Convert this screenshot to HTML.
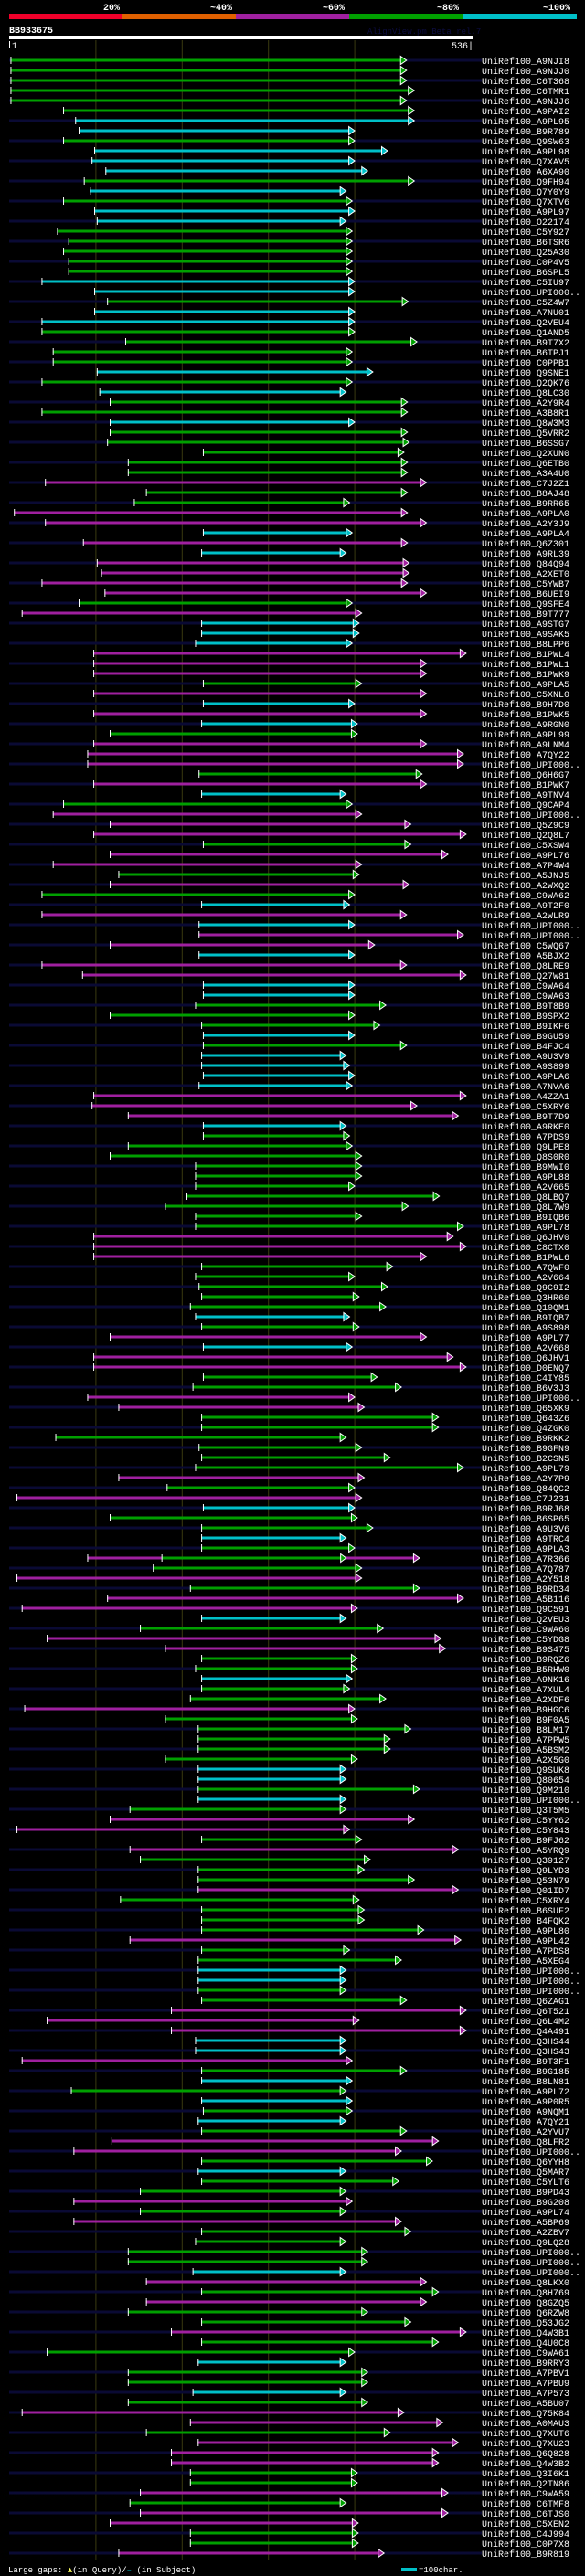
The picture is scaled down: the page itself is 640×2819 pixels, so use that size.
<!DOCTYPE html>
<html><head><meta charset="utf-8">
<style>
html,body{margin:0;padding:0;background:#000;}
svg{display:block;}
text{font-family:"Liberation Mono","DejaVu Sans Mono",monospace;}
</style></head>
<body>
<svg id="chart" width="640" height="2819" viewBox="0 0 640 2819" xmlns="http://www.w3.org/2000/svg">
<rect x="0" y="0" width="640" height="2819" fill="#000"/>
<g>
<rect x="10" y="15" width="124" height="6" fill="#f0002a"/>
<rect x="134" y="15" width="124" height="6" fill="#e06000"/>
<rect x="258" y="15" width="124" height="6" fill="#a020a0"/>
<rect x="382" y="15" width="124" height="6" fill="#00a000"/>
<rect x="506" y="15" width="125" height="6" fill="#00c0c8"/>
<text x="113" y="11" fill="#fff" font-size="10" font-weight="bold">20%</text>
<text x="230" y="11" fill="#fff" font-size="10" font-weight="bold">~40%</text>
<text x="353" y="11" fill="#fff" font-size="10" font-weight="bold">~60%</text>
<text x="478" y="11" fill="#fff" font-size="10" font-weight="bold">~80%</text>
<text x="594" y="11" fill="#fff" font-size="10" font-weight="bold">~100%</text>
</g>
<text x="10" y="36" fill="#fff" font-size="10" font-weight="bold">BB933675</text>
<text x="402" y="37" fill="#0c0c40" font-size="9">AlignView.pm Beta rel.7</text>
<rect x="10" y="39" width="508" height="4" fill="#fff"/>
<rect x="10" y="45" width="1" height="8" fill="#fff"/>
<text x="13" y="53" fill="#fff" font-size="10">1</text>
<text x="518" y="53" fill="#fff" font-size="10" text-anchor="end">536|</text>
<g id="grid"></g>
<g id="rows"></g>
<g>
<text x="9" y="2815" fill="#fff" font-size="9">Large gaps: <tspan fill="#ffff60">▲</tspan>(in Query)/<tspan fill="#00c0c8">–</tspan> (in Subject)</text>
<rect x="439" y="2810" width="17" height="3" fill="#00c0c8"/>
<text x="458" y="2815" fill="#fff" font-size="9">=100char.</text>
</g>
</svg>
<script>
const gridTicks = [100, 200, 300, 400, 500];
const starts = [1,1,1,1,1,62,76,80,62,98,95,111,86,93,62,98,101,55,68,62,68,68,37,98,113,98,37,37,134,50,50,101,37,104,116,37,116,116,113,224,137,137,41,158,144,5,41,224,85,222,101,106,37,110,80,14,222,222,215,97,97,97,224,97,224,97,222,116,97,90,90,219,97,222,62,50,116,97,224,116,50,126,116,37,222,37,219,219,116,219,37,84,224,224,215,116,222,224,224,222,222,224,219,97,95,137,224,224,137,116,215,215,215,205,180,215,215,97,97,97,222,215,219,222,209,215,222,116,224,97,97,224,212,90,126,222,222,53,219,222,215,126,182,8,224,116,222,222,222,90,166,8,209,113,14,222,151,43,180,222,215,222,222,209,17,180,218,218,218,180,218,218,218,218,139,116,8,222,139,151,218,218,218,128,222,222,222,139,222,218,218,218,218,222,187,43,187,215,215,14,222,222,71,222,224,218,222,118,74,222,218,222,151,74,151,74,222,215,137,137,212,158,222,158,137,222,187,222,43,218,137,137,212,137,14,209,158,218,187,187,209,209,151,139,151,116,209,209,126];
const ends = [460,460,460,469,460,469,469,400,400,438,400,415,469,390,397,400,390,397,397,397,397,397,400,400,462,400,400,400,472,397,397,421,397,390,461,461,400,461,463,457,461,461,483,461,394,461,483,397,461,390,463,463,461,483,397,408,405,405,397,529,483,483,408,483,400,483,403,403,483,526,526,478,483,390,397,408,465,529,465,508,408,405,463,400,394,460,400,526,423,400,460,529,400,400,436,400,429,400,460,390,394,400,397,529,472,520,390,394,397,408,408,408,400,498,462,408,526,514,529,483,444,400,438,405,436,394,405,483,397,514,529,426,454,400,411,497,497,390,408,441,526,411,400,408,400,403,421,390,400,475,408,408,475,526,403,390,433,500,505,403,403,397,394,436,400,403,465,441,441,403,390,390,475,390,390,469,394,408,520,418,411,469,520,405,411,411,480,523,394,454,390,390,390,460,529,405,529,390,390,397,460,397,390,397,397,390,460,497,454,490,390,451,390,397,390,454,465,390,415,415,390,483,497,483,415,465,529,497,400,390,415,415,390,415,457,502,441,520,497,497,403,403,508,390,508,404,404,404,434];
const kinds = ("ggggggccgc ccgcgccggg ggccgccggg gcgcggcggg ggmggmmcmc mmmmgmcccm mmgmcmcgmm mgmcgmmmgm " +
  "mgmgcmcmmc mmccgggcgc cccmmmcggg gggggggmmm gggggcgmcm mggmmggggg gmgmcggcgm gmgmmcgmmg " +
  "gcggmggggg ccgcgmmgmg ggmggggmgg ccggmmmccm gcgcgcgmmg cggmgmgggg cmgmggmggc ggcgmmgmmm ggmgmmggm").replace(/ /g, "").split("");
const labels = ["A9NJI8","A9NJJ0","C6T368","C6TMR1","A9NJJ6","A9PAI2","A9PL95","B9R789","Q9SW63","A9PL98","Q7XAV5","A6XA90","Q9FH94","Q7Y0Y9","Q7XTV6","A9PL97","O22174","C5Y927","B6TSR6","Q25A30","C0P4V5","B6SPL5","C5IU97","UPI000..","C5Z4W7","A7NU01","Q2VEU4","Q1AND5","B9T7X2","B6TPJ1","C0PPB1","Q9SNE1","Q2QK76","Q8LC30","A2Y9R4","A3B8R1","Q8W3M3","Q5VRR2","B6SSG7","Q2XUN0","Q6ETB0","A3A4U0","C7J2Z1","B8AJ48","B9RR65","A9PLA0","A2Y3J9","A9PLA4","Q6Z301","A9RL39","Q84Q94","A2XET0","C5YWB7","B6UEI9","Q9SFE4","B9T777","A9STG7","A9SAK5","B8LPP6","B1PWL4","B1PWL1","B1PWK9","A9PLA5","C5XNL0","B9H7D0","B1PWK5","A9RGN0","A9PL99","A9LNM4","A7QY22","UPI000..","Q6H6G7","B1PWK7","A9TNV4","Q9CAP4","UPI000..","Q5Z9C9","Q2Q8L7","C5XSW4","A9PL76","A7P4W4","A5JNJ5","A2WXQ2","C9WA62","A9T2F0","A2WLR9","UPI000..","UPI000..","C5WQ67","A5BJX2","Q8LRE9","Q27W81","C9WA64","C9WA63","B9T8B9","B9SPX2","B9IKF6","B9GU59","B4FJC4","A9U3V9","A9S899","A9PLA6","A7NVA6","A4ZZA1","C5XRY6","B9T7D9","A9RKE0","A7PDS9","Q9LPE8","Q8S0R0","B9MWI0","A9PL88","A2V665","Q8LBQ7","Q8L7W9","B9IQB6","A9PL78","Q6JHV0","C8CTX0","B1PWL6","A7QWF0","A2V664","Q9C9I2","Q3HR60","Q10QM1","B9IQB7","A9S898","A9PL77","A2V668","Q6JHV1","D0ENQ7","C4IY85","B6V3J3","UPI000..","Q65XK9","Q643Z6","Q4ZGK0","B9RKK2","B9GFN9","B2CSN5","A9PL79","A2Y7P9","Q84QC2","C7J231","B9RJ68","B6SP65","A9U3V6","A9TRC4","A9PLA3","A7R366","A7Q787","A2Y518","B9RD34","A5B116","Q9C591","Q2VEU3","C9WA60","C5YDG8","B9S475","B9RQZ6","B5RHW0","A9NK16","A7XUL4","A2XDF6","B9HGC6","B9F0A5","B8LM17","A7PPW5","A5BSM2","A2X5G0","Q9SUK8","Q80654","Q9M210","UPI000..","Q3T5M5","C5YY62","C5Y843","B9FJ62","A5YRQ9","Q39127","Q9LYD3","Q53N79","Q01ID7","C5XRY4","B6SUF2","B4FQK2","A9PL80","A9PL42","A7PDS8","A5XEG4","UPI000..","UPI000..","UPI000..","Q6ZAG1","Q6T521","Q6L4M2","Q4A491","Q3HS44","Q3HS43","B9T3F1","B9G185","B8LN81","A9PL72","A9P0R5","A9NQM1","A7QY21","A2YVU7","Q8LFR2","UPI000..","Q6YYH8","Q5MAR7","C5YLT6","B9PD43","B9G208","A9PL74","A5BP69","A2ZBV7","Q9LQ28","UPI000..","UPI000..","UPI000..","Q8LKX0","Q8H769","Q8GZQ5","Q6RZW8","Q53JG2","Q4W3B1","Q4U0C8","C9WA61","B9RRY3","A7PBV1","A7PBU9","A7P573","A5BU07","Q75K84","A0MAU3","Q7XUT6","Q7XU23","Q6Q828","Q4W3B2","Q3I6K1","Q2TN86","C9WA59","C6TMF8","C6TJS0","C5XEN2","C4J994","C0P7X8","B9R819"];
const overlayRow = [149];
const overlayStart = [176];
const overlayEnd = [390];

const NS = "http://www.w3.org/2000/svg";
const xScale = p => 10.5 + p * 0.944;
const yRow = i => 66 + i * 11;
const colorOf = {g:"#00a000", c:"#00c0c8", m:"#a020a0"};
function mk(tag, attrs, parent){
  const e = document.createElementNS(NS, tag);
  for (const k in attrs) e.setAttribute(k, attrs[k]);
  parent.appendChild(e);
  return e;
}
const grid = document.getElementById('grid');
gridTicks.forEach(t => {
  const l = mk('line', {x1:xScale(t), x2:xScale(t), y1:44, y2:2802, stroke:"#3a3a10", "stroke-width":1}, grid);
  
  
});
const rows = document.getElementById('rows');
for (let i = 0; i < labels.length; i++) {
  const y = yRow(i);
  const g = mk('g', {}, rows);
  
  
  if (i % 2 === 0) {
    const s = mk('rect', {x:10, y:y-1.5, width:517, height:3, fill:"#0a0a34"}, g);
    
    
  }
  const x0 = xScale(starts[i]), x1 = xScale(ends[i]);
  const col = colorOf[kinds[i]] || "#00a000";
  const bar = mk('rect', {x:x0, y:y-1.5, width:Math.max(1, x1-x0-6), height:3, fill:col}, g);
  
  
  const oi = overlayRow.indexOf(i);
  if (oi >= 0) {
    const ox0 = xScale(overlayStart[oi]), ox1 = xScale(overlayEnd[oi]);
    const ob = mk('rect', {x:ox0, y:y-1.5, width:ox1-ox0-5, height:3, fill:"#00a000"}, g);
    
    
    const ot = mk('polygon', {points:(ox1-6)+","+(y-4.5)+" "+ox1+","+y+" "+(ox1-6)+","+(y+4.5), fill:"#00a000", stroke:"#fff", "stroke-width":1}, g);
    
    
    const otk = mk('rect', {x:ox0, y:y-4, width:1, height:8, fill:"#fff"}, g);
    
    
  }
  const tick = mk('rect', {x:x0, y:y-4, width:1, height:8, fill:"#fff"}, g);
  
  
  const tri = mk('polygon', {points:(x1-6.5)+","+(y-4.5)+" "+x1+","+y+" "+(x1-6.5)+","+(y+4.5), fill:col, stroke:"#fff", "stroke-width":1}, g);
  
  
  const t = mk('text', {x:527, y:y+4, fill:"#fff", "font-size":10}, g);
  
  
  t.textContent = "UniRef100_" + labels[i];
}
</script>
</body></html>
